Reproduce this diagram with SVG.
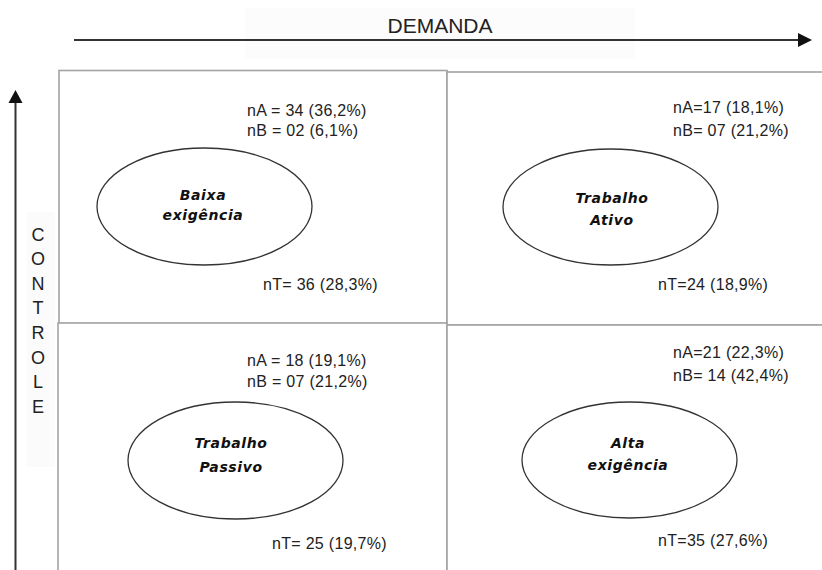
<svg xmlns="http://www.w3.org/2000/svg" width="822" height="570" viewBox="0 0 822 570">
<style>
.box{fill:#ffffff;stroke:#a3a3a3;stroke-width:1.6}
.ell{fill:#ffffff;stroke:#333333;stroke-width:1.3}
.stat{font-family:"Liberation Sans",Arial,sans-serif;font-size:16px;fill:#222;letter-spacing:0.3px}
.lbl{font-family:"DejaVu Sans",sans-serif;font-size:14px;font-weight:bold;font-style:italic;fill:#111;text-anchor:middle;letter-spacing:0.6px}
.axis{font-family:"Liberation Sans",Arial,sans-serif;font-size:21px;fill:#222;text-anchor:middle}
.vax{font-family:"Liberation Sans",Arial,sans-serif;font-size:18px;fill:#222;text-anchor:middle}
.line{stroke:#333;stroke-width:2;fill:none}
</style>
<rect width="822" height="570" fill="#ffffff"/>
<rect x="245" y="8" width="390" height="50" fill="#fcfcfc"/>
<rect x="27" y="212" width="28" height="255" fill="#fbfbfb"/>
<text class="axis" x="440" y="33" textLength="105" lengthAdjust="spacingAndGlyphs">DEMANDA</text>
<g class="vax">
<text x="38" y="240.5">C</text>
<text x="38" y="265">O</text>
<text x="38" y="289.7">N</text>
<text x="38" y="314.3">T</text>
<text x="38" y="338.9">R</text>
<text x="38" y="363.5">O</text>
<text x="38" y="388">L</text>
<text x="38" y="412.7">E</text>
</g>
<g id="connectors">
<line class="line" x1="74" y1="40" x2="798" y2="40"/>
<path d="M798,33 L812,40 L798,47 z" fill="#111"/>
<line class="line" x1="15.5" y1="570" x2="15.5" y2="103"/>
<path d="M8.5,103 L15.5,90 L22.5,103 z" fill="#111"/>
</g>
<g id="q-baixa">
<rect class="box" x="59" y="70.5" width="388" height="253"/>
<text class="stat" x="247" y="115.5">nA = 34 (36,2%)</text>
<text class="stat" x="247" y="135.5">nB = 02 (6,1%)</text>
<ellipse class="ell" cx="204.5" cy="206.5" rx="107.5" ry="58.5"/>
<text class="lbl" x="203" y="200">Baixa</text>
<text class="lbl" x="203" y="220">exigência</text>
<text class="stat" x="263" y="290">nT= 36 (28,3%)</text>
</g>
<g id="q-ativo">
<rect class="box" x="447" y="72" width="390" height="253"/>
<text class="stat" x="673" y="112.5">nA=17 (18,1%)</text>
<text class="stat" x="673" y="135.5">nB= 07 (21,2%)</text>
<ellipse class="ell" cx="610.5" cy="207" rx="107.5" ry="58"/>
<text class="lbl" x="612" y="203">Trabalho</text>
<text class="lbl" x="612" y="225">Ativo</text>
<text class="stat" x="658" y="290">nT=24 (18,9%)</text>
</g>
<g id="q-passivo">
<rect class="box" x="58" y="323" width="389" height="260"/>
<text class="stat" x="247" y="365.5">nA = 18 (19,1%)</text>
<text class="stat" x="247" y="386.5">nB = 07 (21,2%)</text>
<ellipse class="ell" cx="235.5" cy="460.5" rx="107.5" ry="58.5"/>
<text class="lbl" x="231" y="448">Trabalho</text>
<text class="lbl" x="231" y="472">Passivo</text>
<text class="stat" x="272" y="548.5">nT= 25 (19,7%)</text>
</g>
<g id="q-alta">
<rect class="box" x="447" y="325" width="390" height="260"/>
<text class="stat" x="673" y="357.5">nA=21 (22,3%)</text>
<text class="stat" x="673" y="380.5">nB= 14 (42,4%)</text>
<ellipse class="ell" cx="629.5" cy="460" rx="107.5" ry="58"/>
<text class="lbl" x="628" y="448">Alta</text>
<text class="lbl" x="628" y="470">exigência</text>
<text class="stat" x="658" y="545.5">nT=35 (27,6%)</text>
</g>
</svg>
